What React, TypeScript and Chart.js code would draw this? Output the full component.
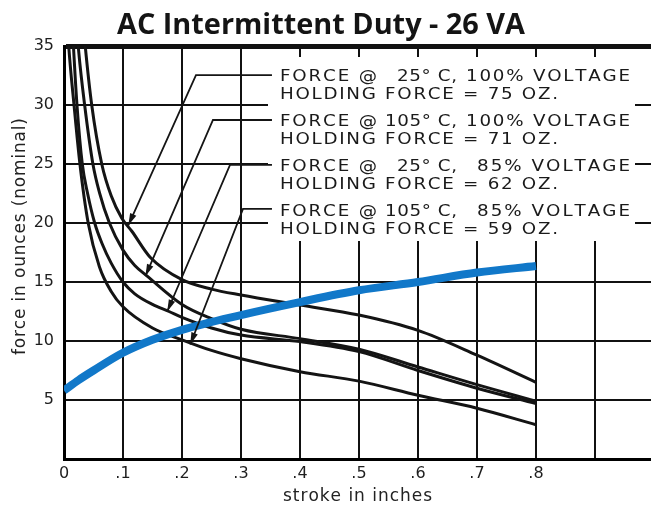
import React, { useEffect, useRef } from 'react';
import { Chart, registerables } from 'chart.js';

Chart.register(...registerables);

// ---------- texts ----------
const TITLE = 'AC Intermittent Duty - 26 VA';
const X_TITLE = 'stroke in inches';
const Y_TITLE = 'force in ounces (nominal)';

// ---------- ticks ----------
const X_TICKS = [0, 0.1, 0.2, 0.3, 0.4, 0.5, 0.6, 0.7, 0.8, 0.9];
const X_TICK_LABELS = ['0', '.1', '.2', '.3', '.4', '.5', '.6', '.7', '.8', ''];
const Y_TICKS = [0, 5, 10, 15, 20, 25, 30, 35];
const Y_TICK_LABELS = ['', '5', '10', '15', '20', '25', '30', '35'];

// ---------- series: 25°C, 100% voltage ----------
const A_X = [0.03, 0.036, 0.047, 0.064, 0.08, 0.098, 0.115, 0.146, 0.2, 0.25, 0.3, 0.4, 0.5, 0.6, 0.7, 0.8];
const A_Y = [38.5, 35, 30, 25, 22.3, 20.4, 19.3, 17.1, 15.2, 14.4, 13.9, 13.05, 12.2, 10.9, 8.8, 6.5];

// ---------- series: 105°C, 100% voltage ----------
const B_X = [0.02, 0.025, 0.035, 0.049, 0.06, 0.077, 0.1, 0.12, 0.141, 0.2, 0.25, 0.3, 0.4, 0.5, 0.6, 0.7, 0.8];
const B_Y = [37.8, 34.5, 30, 25, 22.6, 20, 17.7, 16.4, 15.5, 13.1, 11.9, 11.0, 10.2, 9.3, 7.8, 6.3, 4.9];

// ---------- series: 25°C, 85% voltage ----------
const C_X = [0.013, 0.016, 0.022, 0.031, 0.04, 0.052, 0.065, 0.08, 0.1, 0.12, 0.15, 0.178, 0.2, 0.25, 0.3, 0.4, 0.5, 0.6, 0.7, 0.8];
const C_Y = [38, 35, 30, 25, 22.5, 20, 18.2, 16.6, 15.0, 14.0, 13.1, 12.5, 12.0, 11.1, 10.5, 9.95, 9.1, 7.5, 6.0, 4.7];

// ---------- series: 105°C, 85% voltage ----------
const D_X = [0.004, 0.008, 0.017, 0.027, 0.041, 0.06, 0.08, 0.1, 0.15, 0.2, 0.25, 0.3, 0.4, 0.5, 0.6, 0.7, 0.8];
const D_Y = [38.5, 35, 30, 25, 20, 16.3, 14.2, 12.9, 11.1, 10.1, 9.2, 8.5, 7.4, 6.6, 5.4, 4.3, 2.9];

// ---------- series: blue load line ----------
const BLUE_X = [0, 0.025, 0.05, 0.1, 0.15, 0.2, 0.3, 0.4, 0.5, 0.6, 0.7, 0.8];
const BLUE_Y = [5.8, 6.7, 7.5, 9.0, 10.1, 10.95, 12.2, 13.3, 14.3, 15.0, 15.8, 16.35];

// ---------- annotation labels ----------
const LABEL_FORCE = ['FORCE @', 'FORCE @', 'FORCE @', 'FORCE @'];
const LABEL_TEMP = ['25° C,', '105° C,', '25° C,', '105° C,'];
const LABEL_VOLT = ['100% VOLTAGE', '100% VOLTAGE', '85% VOLTAGE', '85% VOLTAGE'];
const LABEL_HOLD = ['HOLDING FORCE = 75 OZ.', 'HOLDING FORCE = 71 OZ.', 'HOLDING FORCE = 62 OZ.', 'HOLDING FORCE = 59 OZ.'];
// leader arrows (data coordinates): tip on curve, knee, end near label
const TIP_X = [0.109, 0.138, 0.175, 0.214];
const TIP_Y = [19.8, 15.5, 12.5, 9.7];
const KNEE_X = [0.2237, 0.2525, 0.2814, 0.3034];
const KNEE_Y = [32.54, 28.73, 24.92, 21.19];
const LEADER_END_X = 0.3525;

const pts = (xs: number[], ys: number[]) => xs.map((x, i) => ({ x, y: ys[i] }));

function drawSpaced(ctx: CanvasRenderingContext2D, text: string, x0: number, x1: number, y: number, sx = 1) {
  const chars = Array.from(text);
  const widths = chars.map((c) => ctx.measureText(c).width * sx);
  const total = widths.reduce((a, b) => a + b, 0);
  const extra = chars.length > 1 ? (x1 - x0 - total) / (chars.length - 1) : 0;
  let x = x0;
  ctx.textAlign = 'left';
  chars.forEach((c, i) => {
    ctx.save();
    ctx.translate(x, y);
    ctx.scale(sx, 1);
    ctx.fillText(c, 0, 0);
    ctx.restore();
    x += widths[i] + extra;
  });
}

const annotPlugin = {
  id: 'annot',
  beforeDatasetsDraw(chart: any) {
    const { ctx } = chart;
    ctx.save();
    ctx.fillStyle = '#ffffff';
    ctx.fillRect(268, 57, 367, 184);
    ctx.restore();
  },
  afterDatasetsDraw(chart: any) {
    const { ctx } = chart;
    const xs = chart.scales.x;
    const ys = chart.scales.y;
    ctx.save();
    ctx.strokeStyle = '#151515';
    ctx.fillStyle = '#151515';
    ctx.lineWidth = 1.8;
    ctx.lineJoin = 'miter';
    for (let i = 0; i < 4; i++) {
      const tx = xs.getPixelForValue(TIP_X[i]);
      const ty = ys.getPixelForValue(TIP_Y[i]);
      const kx = xs.getPixelForValue(KNEE_X[i]);
      const ky = ys.getPixelForValue(KNEE_Y[i]);
      const ex = xs.getPixelForValue(LEADER_END_X);
      ctx.beginPath();
      ctx.moveTo(ex, ky);
      ctx.lineTo(kx, ky);
      ctx.lineTo(tx, ty);
      ctx.stroke();
      const ang = Math.atan2(ty - ky, tx - kx);
      const len = 12;
      const hw = 3.4;
      const bx = tx - Math.cos(ang) * len;
      const by = ty - Math.sin(ang) * len;
      ctx.beginPath();
      ctx.moveTo(tx, ty);
      ctx.lineTo(bx + Math.sin(ang) * hw, by - Math.cos(ang) * hw);
      ctx.lineTo(bx - Math.sin(ang) * hw, by + Math.cos(ang) * hw);
      ctx.closePath();
      ctx.fill();
    }
    ctx.fillStyle = '#1a1a1a';
    ctx.font = '15px "DejaVu Sans"';
    ctx.textBaseline = 'alphabetic';
    const SX = 1.22;
    for (let i = 0; i < 4; i++) {
      const b1 = 81 + i * 45;
      const b2 = b1 + 18;
      drawSpaced(ctx, LABEL_FORCE[i], 280, 377, b1, SX);
      const tStart = LABEL_TEMP[i].length > 6 ? 385 : 397;
      drawSpaced(ctx, LABEL_TEMP[i], tStart, 457, b1, SX);
      const vStart = LABEL_VOLT[i].startsWith('100') ? 466 : 477;
      drawSpaced(ctx, LABEL_VOLT[i], vStart, 630, b1, SX);
      drawSpaced(ctx, LABEL_HOLD[i], 280, 558, b2, SX);
    }
    ctx.restore();
  },
  afterDraw(chart: any) {
    const { ctx } = chart;
    ctx.save();
    ctx.fillStyle = '#141414';
    ctx.font = 'bold 28px "Open Sans"';
    ctx.textBaseline = 'alphabetic';
    const w = ctx.measureText(TITLE).width;
    const target = 408;
    ctx.translate(321, 34);
    ctx.scale(target / w, 1);
    ctx.textAlign = 'center';
    ctx.fillText(TITLE, 0, 0);
    ctx.restore();

    ctx.save();
    ctx.fillStyle = '#222';
    ctx.font = '17px "DejaVu Sans"';
    ctx.textBaseline = 'alphabetic';
    drawSpaced(ctx, X_TITLE, 283, 432, 501);
    ctx.translate(25, 355);
    ctx.rotate(-Math.PI / 2);
    drawSpaced(ctx, Y_TITLE, 0, 237, 0);
    ctx.restore();
  },
};

export default function App() {
  const ref = useRef<HTMLCanvasElement | null>(null);

  useEffect(() => {
    if (!ref.current) return;
    const black = '#141414';
    const line = (xs: number[], ys: number[]) => ({
      data: pts(xs, ys),
      borderColor: black,
      borderWidth: 3,
      pointRadius: 0,
      fill: false,
      cubicInterpolationMode: 'monotone' as const,
      clip: 0,
    });
    const chart = new Chart(ref.current, {
      type: 'line',
      data: {
        datasets: [
          {
            data: pts(BLUE_X, BLUE_Y),
            borderColor: '#1178c9',
            borderWidth: 8,
            pointRadius: 0,
            fill: false,
            cubicInterpolationMode: 'monotone',
            clip: 0,
          },
          line(A_X, A_Y),
          line(B_X, B_Y),
          line(C_X, C_Y),
          line(D_X, D_Y),
        ],
      },
      options: {
        responsive: false,
        animation: false,
        devicePixelRatio: 1,
        layout: { padding: { top: 46, left: 0, right: 0, bottom: 0 } },
        plugins: {
          legend: { display: false },
          tooltip: { enabled: false },
          title: { display: false },
        },
        elements: { point: { radius: 0 } },
        scales: {
          x: {
            type: 'linear',
            min: 0,
            max: 0.995,
            afterFit: (s: any) => {
              s.height = 49;
            },
            afterBuildTicks: (s: any) => {
              s.ticks = X_TICKS.map((v) => ({ value: v }));
            },
            ticks: {
              autoSkip: false,
              maxRotation: 0,
              padding: 5,
              color: '#1e1e1e',
              font: { family: 'DejaVu Sans', size: 16 },
              callback: (v: any) => {
                const i = X_TICKS.indexOf(Number(v));
                return i >= 0 ? X_TICK_LABELS[i] : '';
              },
            },
            grid: { color: '#111', lineWidth: 2, drawTicks: false },
            border: { color: '#000', width: 3 },
          },
          y: {
            type: 'linear',
            min: 0,
            max: 35,
            afterFit: (s: any) => {
              s.width = 64;
            },
            afterBuildTicks: (s: any) => {
              s.ticks = Y_TICKS.map((v) => ({ value: v }));
            },
            ticks: {
              autoSkip: false,
              padding: 10,
              color: '#1e1e1e',
              font: { family: 'DejaVu Sans', size: 16 },
              callback: (v: any) => {
                const i = Y_TICKS.indexOf(Number(v));
                return i >= 0 ? Y_TICK_LABELS[i] : '';
              },
            },
            grid: {
              color: '#111',
              lineWidth: (c: any) => (c.tick && c.tick.value === 35 ? 5 : 2),
              drawTicks: false,
            },
            border: { color: '#000', width: 3 },
          },
        },
      },
      plugins: [annotPlugin],
    });
    return () => chart.destroy();
  }, []);

  return (
    <div style={{ position: 'absolute', left: 0, top: 0, width: 651, height: 508, background: '#fff' }}>
      <canvas ref={ref} width={651} height={508} style={{ display: 'block' }} />
    </div>
  );
}
